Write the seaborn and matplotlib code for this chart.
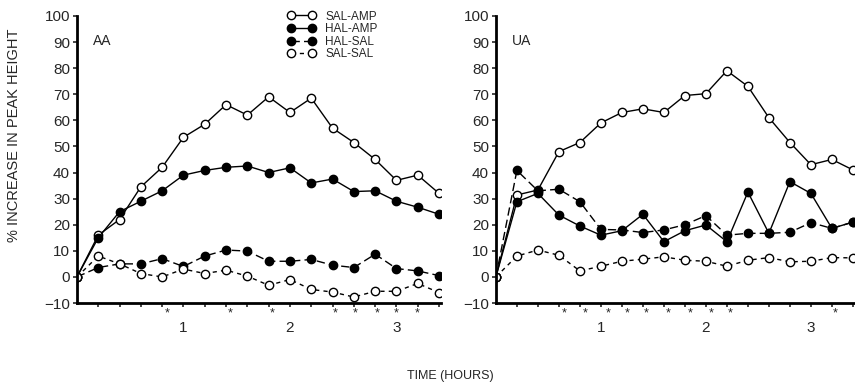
import pandas as pd
import numpy as np
from matplotlib import pyplot as plt
import seaborn as sns

# time points in hours (every 12 min)
hours = [0, 0.2, 0.4, 0.6, 0.8, 1.0, 1.2, 1.4, 1.6, 1.8, 2.0,
         2.2, 2.4, 2.6, 2.8, 3.0, 3.2, 3.4]

# AA panel
aa_sal_amp = [0, 16, 22, 34.5, 42, 53.5, 58.5, 66, 62, 69, 63, 68.5, 57, 51.5, 45, 37, 39, 32]
aa_hal_amp = [0, 15, 25, 29, 33, 39, 40.8, 42, 42.5, 40, 41.8, 36, 37.5, 32.7, 33, 29, 26.7, 24]
aa_hal_sal = [0, 3.6, 5, 5, 7, 4, 8, 10.3, 9.9, 6, 6, 6.7, 4.5, 3.6, 8.7, 3.2, 2.3, 0.5]
aa_sal_sal = [0, 8, 5, 1.3, 0, 3, 1.3, 2.6, 0.3, -3.2, -1, -4.8, -5.8, -7.7, -5.5, -5.5, -2.5, -6]

# UA panel
ua_sal_amp = [0, 31.4, 33.3, 48, 51.5, 59, 63, 64.4, 63, 69.5, 70.2, 79, 73, 61, 51.5, 43, 45, 41]
ua_hal_amp = [0, 28.8, 32, 23.7, 19.5, 16, 17.7, 24, 13.5, 17.7, 19.9, 13.5, 32.5, 16.7, 36.5, 32, 18.6, 21]
ua_hal_sal = [0, 40.8, 33, 33.6, 28.8, 18.2, 18, 17, 18, 20, 23.5, 16, 16.7, 16.7, 17.1, 20.8, 18.6, 21]
ua_sal_sal = [0, 8, 10.3, 8.3, 2.3, 4.1, 6, 6.8, 7.7, 6.4, 6, 4.1, 6.4, 7.4, 5.8, 6, 7.4, 7.3]

# significance asterisks (hours)
aa_stars = [0.85, 1.44, 1.83, 2.42, 2.61, 2.82, 3.0, 3.19]
ua_stars = [0.65, 0.85, 1.07, 1.25, 1.43, 1.64, 1.85, 2.05, 2.23, 3.23]

groups = ['SAL-AMP', 'HAL-AMP', 'HAL-SAL', 'SAL-SAL']
line_styles = {'SAL-AMP': ('-', 'white'), 'HAL-AMP': ('-', 'black'),
               'HAL-SAL': ((0, (6, 3)), 'black'), 'SAL-SAL': ((0, (3, 3)), 'white')}

sns.set_style('white')
plt.rcParams['font.family'] = ['Liberation Sans', 'DejaVu Sans']

fig = plt.figure(figsize=(8.55, 3.88), dpi=100)
ax1 = fig.add_axes([0.090, 0.219, 0.426, 0.740])
ax2 = fig.add_axes([0.580, 0.219, 0.420, 0.740])


def draw_panel(ax, series, stars, name):
    df = pd.DataFrame({'hours': hours * 4,
                       'value': sum(series, []),
                       'group': np.repeat(groups, len(hours))})
    for g in groups:
        ls, fc = line_styles[g]
        sns.lineplot(data=df[df.group == g], x='hours', y='value', ax=ax,
                     color='black', linewidth=1.0, linestyle=ls,
                     marker='o', markersize=6, markerfacecolor=fc,
                     markeredgecolor='black', markeredgewidth=1.0,
                     label=g, legend=False)
    ax.set_xlim(0, 3.42)
    ax.set_ylim(-10, 100)
    ax.set_yticks(range(-10, 101, 10))
    ax.set_xticks([1, 2, 3])
    ax.set_xticks(np.arange(0.2, 3.41, 0.2), minor=True)
    ax.tick_params(axis='both', which='major', direction='out', length=3,
                   width=1.2, labelsize=11, pad=2, left=True, bottom=True)
    ax.tick_params(axis='x', which='minor', direction='out', length=3,
                   width=1.2, bottom=True)
    ax.tick_params(axis='x', pad=10)
    for s in ['top', 'right']:
        ax.spines[s].set_visible(False)
    for s in ['left', 'bottom']:
        ax.spines[s].set_linewidth(2.0)
        ax.spines[s].set_color('black')
    ax.set_xlabel('')
    ax.set_ylabel('')
    for st in stars:
        ax.text(st, -0.035, '*', transform=ax.get_xaxis_transform(),
                ha='center', va='center', fontsize=9)
    ax.text(0.045, 0.90, name, transform=ax.transAxes, fontsize=10)


draw_panel(ax1, [aa_sal_amp, aa_hal_amp, aa_hal_sal, aa_sal_sal], aa_stars, 'AA')
draw_panel(ax2, [ua_sal_amp, ua_hal_amp, ua_hal_sal, ua_sal_sal], ua_stars, 'UA')

leg = ax1.legend(loc='upper left', bbox_to_anchor=(0.565, 1.035), frameon=False,
                 numpoints=2, handlelength=2.4, handletextpad=0.8,
                 labelspacing=0.05, fontsize=8.5, borderaxespad=0)

fig.text(14 / 855, 1 - 135 / 388, '% INCREASE IN PEAK HEIGHT', rotation=90,
         ha='center', va='center', fontsize=10.5)
fig.text(450 / 855, 1 - 376 / 388, 'TIME (HOURS)', ha='center', va='center',
         fontsize=9)

fig.savefig('out.png', dpi=100)
